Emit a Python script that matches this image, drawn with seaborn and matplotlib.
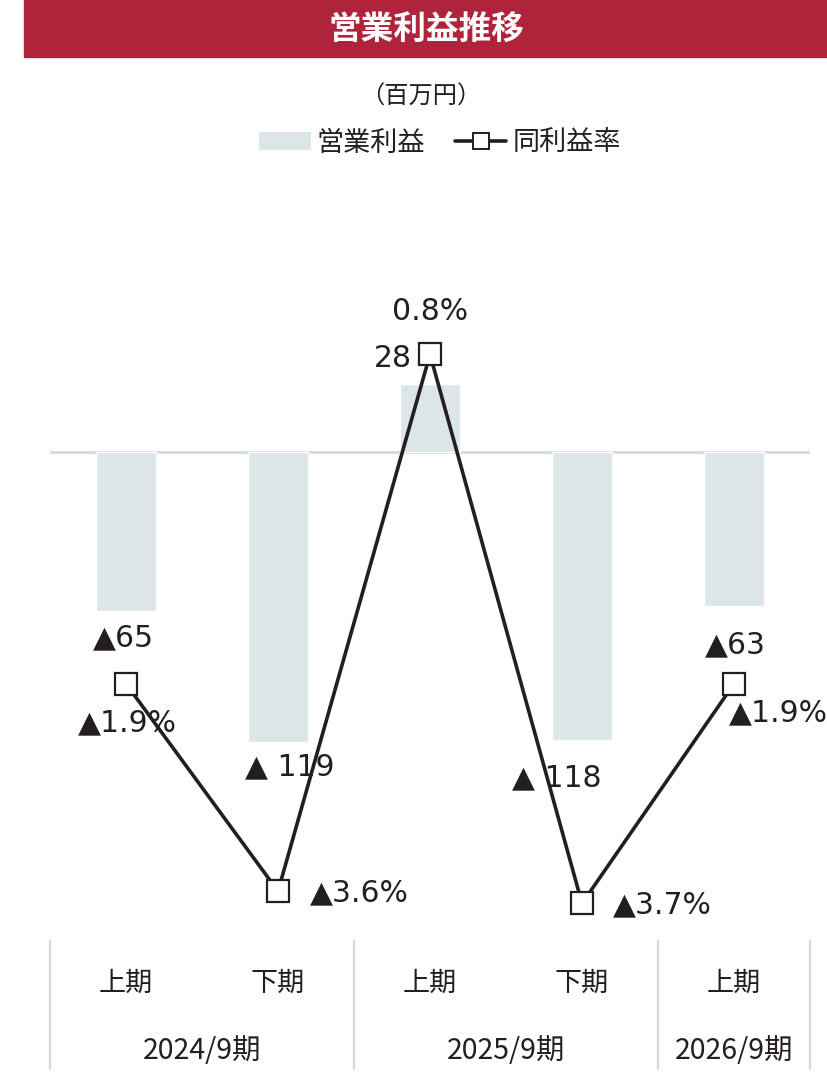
import matplotlib
matplotlib.use("Agg")
import matplotlib.pyplot as plt
from matplotlib.patches import Rectangle, Patch
from matplotlib.lines import Line2D
import matplotlib.transforms as mtransforms
import pandas as pd
import seaborn as sns

# ---- data ----
periods = ["上期", "下期", "上期", "下期", "上期"]
fiscal_years = ["2024/9期", "2025/9期", "2026/9期"]
year_spans = [(0, 1), (2, 3), (4, 4)]
operating_profit = [-65, -119, 28, -118, -63]        # 百万円
profit_margin = [-1.9, -3.6, 0.8, -3.7, -1.9]        # %

title = "営業利益推移"
unit_label = "（百万円）"
legend_bar = "営業利益"
legend_line = "同利益率"

# ---- style ----
BAR_COLOR = "#DCE5E8"
LINE_COLOR = "#231F20"
TITLE_RED = "#B0243B"
GRID_GRAY = "#D9D9D9"
TEXT_COLOR = "#231F20"
JP = ["Noto Sans CJK JP", "DejaVu Sans"]
NUM = ["DejaVu Sans", "Noto Sans CJK JP"]

sns.set_theme(style="white")
plt.rcParams["font.family"] = NUM

W, H = 828, 1072
fig = plt.figure(figsize=(W / 100, H / 100), dpi=100)

# plot area in pixel coordinates
left_px, right_px, top_px, bottom_px = 50, 810, 208, 940
ax = fig.add_axes([left_px / W, 1 - bottom_px / H,
                   (right_px - left_px) / W, (bottom_px - top_px) / H])

df = pd.DataFrame({"pos": range(len(periods)),
                   "profit": operating_profit,
                   "margin": profit_margin})

ax.axhline(0, color=GRID_GRAY, lw=2, zorder=0)
sns.barplot(data=df, x="pos", y="profit", ax=ax, color=BAR_COLOR,
            width=0.4, saturation=1, zorder=2)
ax.set_xlim(-0.5, len(periods) - 0.5)
ax.set_ylim(-200, 100)

ax2 = ax.twinx()
sns.lineplot(data=df, x="pos", y="margin", ax=ax2, color=LINE_COLOR,
             lw=2.6, marker="s", markersize=16, markerfacecolor="white",
             markeredgecolor=LINE_COLOR, markeredgewidth=1.6)
ax2.set_ylim(-4.0, 2.0)
ax2.set_xlim(-0.5, len(periods) - 0.5)

for a in (ax, ax2):
    for s in a.spines.values():
        s.set_visible(False)
    a.set_xticks([])
    a.set_yticks([])
    a.set_xlabel("")
    a.set_ylabel("")


def fmt_profit(v):
    if v < 0:
        return f"▲ {abs(v)}" if abs(v) >= 100 else f"▲{abs(v)}"
    return f"{v}"


def fmt_margin(v):
    return f"▲{abs(v):.1f}%" if v < 0 else f"{v:.1f}%"


# label offsets (pixels) from the bar end / marker
bar_offsets = [(-3, -27, "center"), (12, -24, "center"), (-18, 25, "right"),
               (-25, -38, "center"), (1, -39, "center")]
line_offsets = [(1, -39), (81, -2), (0, 43), (80, -1), (44, -29)]

NUM_SIZE = 21.5
for i, v in enumerate(operating_profit):
    dx, dy, ha = bar_offsets[i]
    ax.annotate(fmt_profit(v), (i, v), xytext=(dx, dy), textcoords="offset pixels",
                ha=ha, va="center", fontsize=NUM_SIZE, color=TEXT_COLOR,
                family=NUM, annotation_clip=False, zorder=5)

for i, v in enumerate(profit_margin):
    dx, dy = line_offsets[i]
    ax2.annotate(fmt_margin(v), (i, v), xytext=(dx, dy), textcoords="offset pixels",
                 ha="center", va="center", fontsize=NUM_SIZE, color=TEXT_COLOR,
                 family=NUM, annotation_clip=False, zorder=5)

# category table below the plot
trans = mtransforms.blended_transform_factory(ax.transData, ax.transAxes)
axes_h = bottom_px - top_px
for i, p in enumerate(periods):
    ax.text(i, -(983 - bottom_px) / axes_h, p, transform=trans, ha="center",
            va="center", fontsize=19.5, color=TEXT_COLOR, family=JP)
for (a, b), fy in zip(year_spans, fiscal_years):
    ax.text((a + b) / 2, -(1051 - bottom_px) / axes_h, fy, transform=trans,
            ha="center", va="center", fontsize=20.5, color=TEXT_COLOR, family=JP)
sep_x = [-0.5] + [b + 0.5 for (_, b) in year_spans]
ax.vlines(sep_x, 0, -(1070 - bottom_px) / axes_h, transform=trans,
          colors=GRID_GRAY, lw=1.6, clip_on=False)

# title bar
fig.patches.append(Rectangle((24 / W, 1 - 57 / H), (W - 24) / W, 57 / H,
                             transform=fig.transFigure, color=TITLE_RED, zorder=0))
fig.text(426 / W, 1 - 30 / H, title, ha="center", va="center", color="white",
         fontsize=23.5, fontweight="bold", family=JP)
fig.text(421 / W, 1 - 97 / H, unit_label, ha="center", va="center",
         color=TEXT_COLOR, fontsize=17.5, family=JP)

# legend
LEG_SIZE = 19.5
handles = [Patch(facecolor=BAR_COLOR, edgecolor="none", label=legend_bar),
           Line2D([0], [0], color=LINE_COLOR, lw=2.6, marker="s", markersize=11,
                  markerfacecolor="white", markeredgecolor=LINE_COLOR,
                  markeredgewidth=1.4, label=legend_line)]
leg = fig.legend(handles=handles, loc="center", bbox_to_anchor=(440 / W, 1 - 143 / H),
                 ncol=2, frameon=False, handlelength=1.9, handleheight=0.6,
                 handletextpad=0.22, columnspacing=1.1,
                 prop={"family": JP, "size": LEG_SIZE})
for t in leg.get_texts():
    t.set_color(TEXT_COLOR)

fig.savefig("out.png", dpi=100)
